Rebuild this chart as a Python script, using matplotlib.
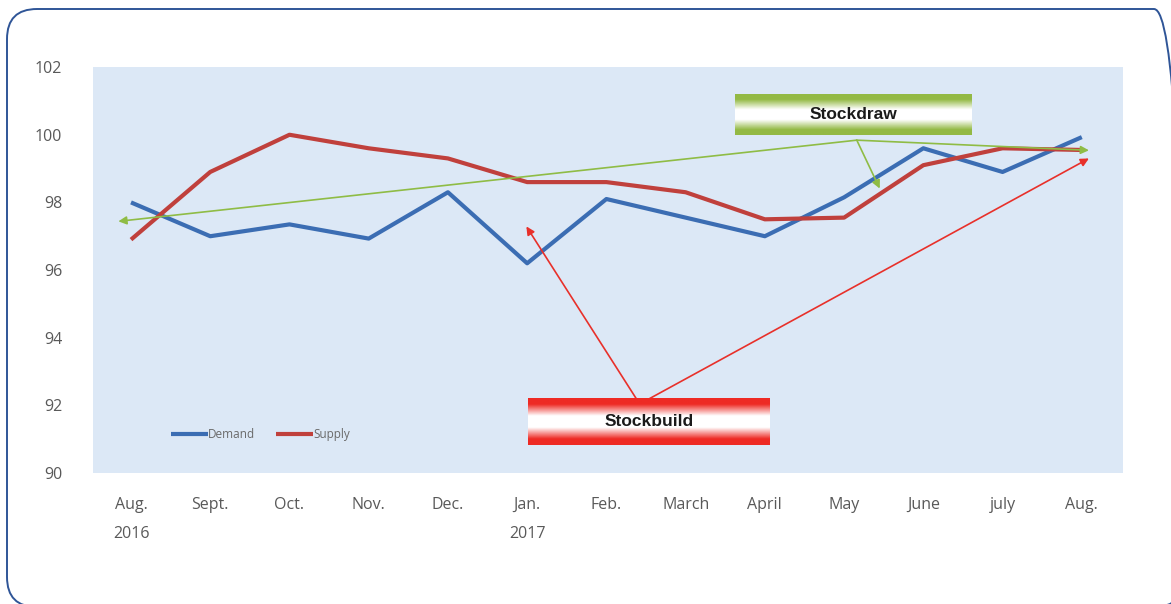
import numpy as np
import matplotlib
matplotlib.use("Agg")
import matplotlib.pyplot as plt
from matplotlib.patches import FancyBboxPatch
from matplotlib.transforms import IdentityTransform

# Monthly oil demand / supply index
months = ["Aug.\n2016", "Sept.", "Oct.", "Nov.", "Dec.", "Jan.\n2017", "Feb.",
          "March", "April", "May", "June", "july", "Aug."]
demand = [98.0, 97.0, 97.35, 96.93, 98.3, 96.2, 98.1, 97.55, 97.0, 98.15, 99.6, 98.9, 99.93]
supply = [96.9, 98.9, 100.0, 99.6, 99.3, 98.6, 98.6, 98.3, 97.5, 97.55, 99.1, 99.6, 99.55]
yticks = [90, 92, 94, 96, 98, 100, 102]

# annotation arrows (x in month index, y in index value)
draw_origin = (9.16, 99.84)
draw_targets = [(-0.16, 97.44), (12.09, 99.54), (9.45, 98.41)]
build_origin = (6.42, 92.04)
build_targets = [(4.99, 97.29), (12.09, 99.3)]

plt.rcParams['font.family'] = ['Open Sans', 'DejaVu Sans']

fig = plt.figure(figsize=(11.71, 6.04), dpi=100)
ax = fig.add_axes([0.0794, 0.2169, 0.8796, 0.672])
ax.set_facecolor("#dce8f6")

x = np.arange(len(months))
ax.plot(x, demand, color="#3b6db3", lw=3, label="Demand", solid_capstyle="butt", zorder=3)
ax.plot(x, supply, color="#c0403c", lw=3, label="Supply", solid_capstyle="butt", zorder=3)

ax.set_xlim(-0.48, 12.52)
ax.set_ylim(90, 102)
ax.set_yticks(yticks)
ax.set_xticks(x)
ax.set_xticklabels(months, linespacing=2.1, va="top")
ax.tick_params(length=0, labelsize=11.5, labelcolor="#595959")
ax.tick_params(axis="x", pad=17)
ax.tick_params(axis="y", pad=22)
for s in ax.spines.values():
    s.set_visible(False)

# green stockdraw arrows
for tx, ty in draw_targets:
    ax.annotate("", xy=(tx, ty), xytext=draw_origin, zorder=4,
                arrowprops=dict(arrowstyle="-|>", color="#8fbc45", lw=1.2,
                                mutation_scale=12, shrinkA=0, shrinkB=0))
# red stockbuild arrows
for tx, ty in build_targets:
    ax.annotate("", xy=(tx, ty), xytext=build_origin, zorder=4,
                arrowprops=dict(arrowstyle="-|>", color="#e8302a", lw=1.2,
                                mutation_scale=12, shrinkA=0, shrinkB=0))


def gradient_box(x0, x1, y0, y1, edge, text):
    # solid colour at top and bottom, fading to white through the middle
    t = np.abs(np.linspace(-1, 1, 64))
    g = np.clip((t - 0.25) / 0.5, 0, 1)
    edge_rgb = np.array(matplotlib.colors.to_rgb(edge))
    img = (1 - g)[:, None] * np.ones(3) + g[:, None] * edge_rgb
    img = np.repeat(img[:, None, :], 2, axis=1)
    ax.imshow(img, extent=(x0, x1, y0, y1), transform=ax.transAxes,
              aspect="auto", zorder=5, interpolation="bilinear")
    ax.text((x0 + x1) / 2, (y0 + y1) / 2, text, transform=ax.transAxes,
            ha="center", va="center", fontsize=12.5, fontweight="bold",
            family=["Liberation Sans", "DejaVu Sans"], color="#1a1a1a", zorder=6)


gradient_box(0.623, 0.853, 0.832, 0.933, "#93b944", "Stockdraw")
gradient_box(0.4225, 0.657, 0.069, 0.183, "#ee2a24", "Stockbuild")
ax.set_xlim(-0.48, 12.52)
ax.set_ylim(90, 102)

leg = ax.legend(loc="lower left", bbox_to_anchor=(0.065, 0.053), ncol=2, frameon=False,
                handlelength=3.2, handletextpad=0.0, columnspacing=1.7,
                fontsize=8.5, labelcolor="#6a6a6a")

# rounded frame around the whole figure
frame = FancyBboxPatch((7, -3), 1177, 598, boxstyle="round,pad=0,rounding_size=30",
                       transform=IdentityTransform(), fill=False,
                       edgecolor="#2f5597", lw=1.4)
fig.patches.append(frame)

fig.savefig("out.png", dpi=100, facecolor="white")
